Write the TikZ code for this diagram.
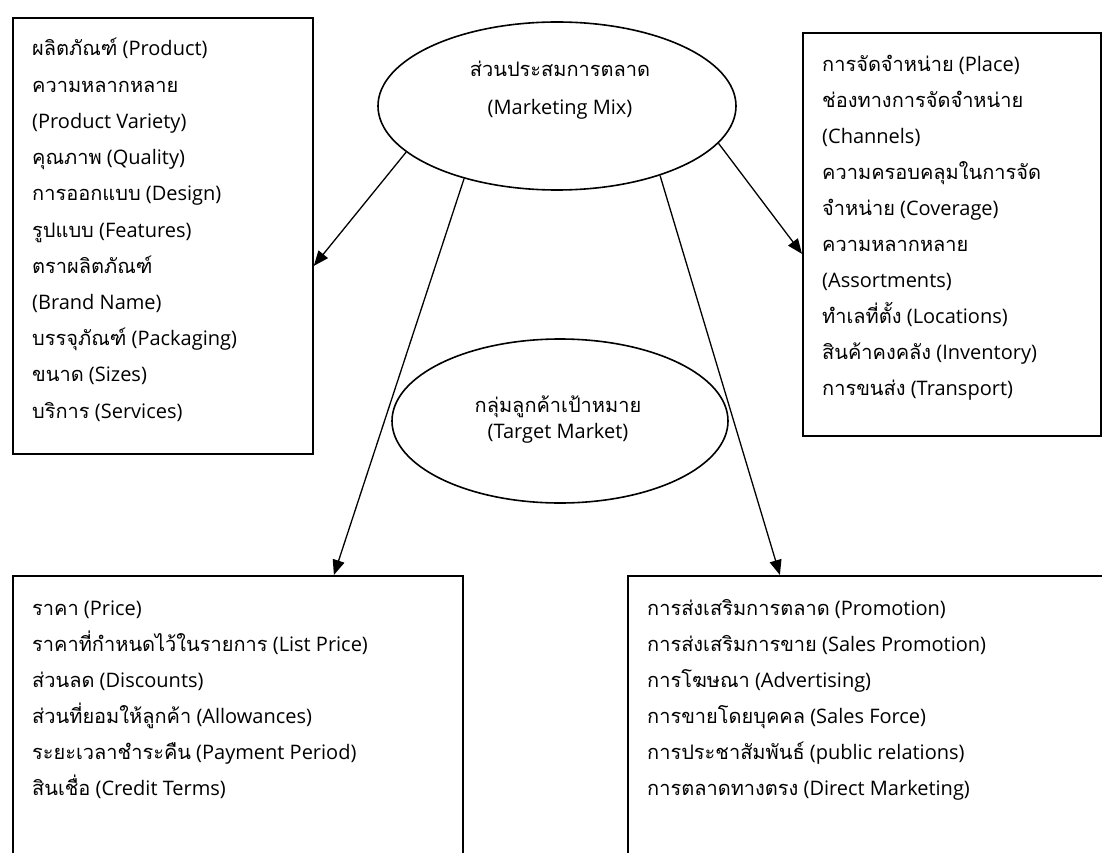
\documentclass[tikz,border=0pt]{standalone}
\usepackage{fontspec}
\setmainfont{Open Sans}
\newfontfamily\thaifont[Script=Thai]{Loma}
\newcommand\thai[1]{{\thaifont #1}}
\usetikzlibrary{arrows.meta,shapes.geometric}
\tikzset{
  listbox/.style={draw=black,line width=1.8pt,rectangle,anchor=north west,inner sep=0pt},
  mixoval/.style={draw=black,line width=1.6pt,ellipse,inner sep=0pt},
  itemtext/.style={anchor=base west,inner sep=0pt,font=\fontsize{20}{24}\selectfont},
  ovaltext/.style={anchor=base,inner sep=0pt,font=\fontsize{20}{24}\selectfont},
  mixarrow/.style={-{Triangle[length=15pt,width=12pt]},line width=1.3pt},
}

\begin{document}
\begin{tikzpicture}[x=1pt,y=-1pt]
  \useasboundingbox (0,0) rectangle (1102,853);
  \clip (0,0) rectangle (1102,853);
  % the four boxes
  \node[listbox,minimum width=300pt,minimum height=436pt] (prod) at (12,17) {};
  \node[listbox,minimum width=298pt,minimum height=403pt] (place) at (802,32) {};
  \node[listbox,minimum width=450pt,minimum height=300pt] (price) at (12,575) {};
  \node[listbox,minimum width=477pt,minimum height=300pt] (promo) at (627,575) {};
  % the two ovals
  \node[mixoval,minimum width=358pt,minimum height=168pt] (mix) at (557,106) {};
  \node[mixoval,minimum width=336pt,minimum height=164pt] (tgt) at (560,421) {};
  \node[ovaltext] (mix-1) at (560,77) {\thai{ส่วนประสมการตลาด}};
  \node[ovaltext] (mix-2) at (560,115) {(Marketing Mix)};
  \node[ovaltext] (tgt-1) at (558,412) {\thai{กลุ่มลูกค้าเป้าหมาย}};
  \node[ovaltext] (tgt-2) at (558,438) {(Target Market)};
  % lists
  \foreach \t [count=\i] in {\thai{ผลิตภัณฑ์} (Product), \thai{ความหลากหลาย},
      (Product Variety), \thai{คุณภาพ} (Quality), \thai{การออกแบบ} (Design),
      \thai{รูปแบบ} (Features), \thai{ตราผลิตภัณฑ์}, (Brand Name),
      \thai{บรรจุภัณฑ์} (Packaging), \thai{ขนาด} (Sizes), \thai{บริการ} (Services)}
    \node[itemtext] (prod-\i) at (32,{56+36.2*(\i-1)}) {\t};
  \foreach \t [count=\i] in {\thai{การจัดจำหน่าย} (Place), \thai{ช่องทางการจัดจำหน่าย},
      (Channels), \thai{ความครอบคลุมในการจัด}, \thai{จำหน่าย} (Coverage),
      \thai{ความหลากหลาย}, (Assortments), \thai{ทำเลที่ตั้ง} (Locations),
      \thai{สินค้าคงคลัง} (Inventory), \thai{การขนส่ง} (Transport)}
    \node[itemtext] (place-\i) at (822,{72+35.9*(\i-1)}) {\t};
  \foreach \t [count=\i] in {\thai{ราคา} (Price), \thai{ราคาที่กำหนดไว้ในรายการ} (List Price),
      \thai{ส่วนลด} (Discounts), \thai{ส่วนที่ยอมให้ลูกค้า} (Allowances),
      \thai{ระยะเวลาชำระคืน} (Payment Period), \thai{สินเชื่อ} (Credit Terms)}
    \node[itemtext] (price-\i) at (32,{615+36*(\i-1)}) {\t};
  \foreach \t [count=\i] in {\thai{การส่งเสริมการตลาด} (Promotion),
      \thai{การส่งเสริมการขาย} (Sales Promotion), \thai{การโฆษณา} (Advertising),
      \thai{การขายโดยบุคคล} (Sales Force), \thai{การประชาสัมพันธ์} (public relations),
      \thai{การตลาดทางตรง} (Direct Marketing)}
    \node[itemtext] (promo-\i) at (647,{615+36*(\i-1)}) {\t};
  % arrows
  \draw[mixarrow] (mix.197) -- ([yshift=-30pt]prod.east);
  \draw[mixarrow] (mix.347) -- ([yshift=-19.5pt]place.west);
  \draw[mixarrow] (mix.218) -- ([xshift=96pt]price.north);
  \draw[mixarrow] (mix.326) -- ([xshift=-86.5pt]promo.north);
\end{tikzpicture}
\end{document}
